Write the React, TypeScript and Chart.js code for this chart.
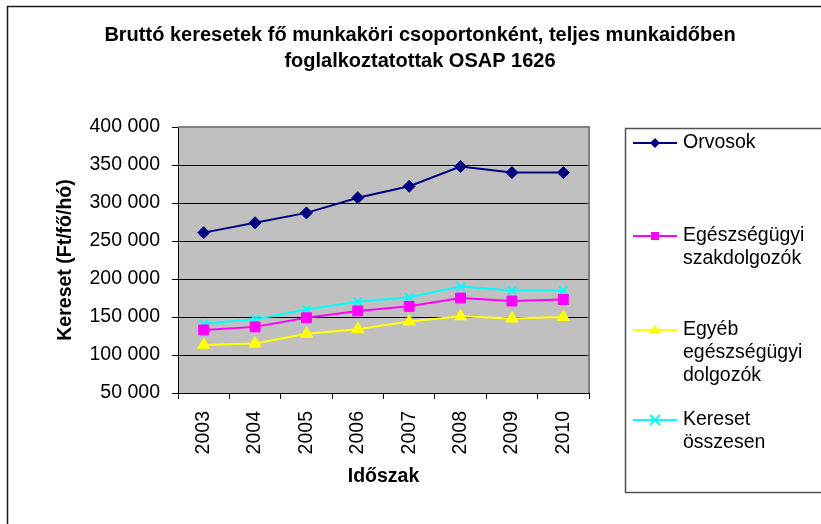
import React, { useEffect, useRef } from "react";
import { Chart, registerables } from "chart.js";

Chart.register(...registerables);

const years = ["2003", "2004", "2005", "2006", "2007", "2008", "2009", "2010"];
const orvosok = [261000, 274000, 287000, 307000, 322000, 348000, 340000, 340000];
const szakdolgozok = [133000, 137000, 149000, 158000, 164000, 175000, 171000, 173000];
const egyeb = [113000, 115000, 128000, 134000, 144000, 151000, 148000, 150000];
const osszesen = [141000, 147000, 160000, 170000, 176000, 190000, 185000, 185000];

const yMin = 50000;
const yMax = 400000;
const yStep = 50000;

const titleLines = [
  "Bruttó keresetek fő munkaköri csoportonként, teljes munkaidőben",
  "foglalkoztatottak OSAP 1626",
];
const yTitle = "Kereset (Ft/fő/hó)";
const xTitle = "Időszak";
const legendLabels = [
  ["Orvosok"],
  ["Egészségügyi", "szakdolgozók"],
  ["Egyéb", "egészségügyi", "dolgozók"],
  ["Kereset", "összesen"],
];

const FONT = "'Liberation Sans', Arial, sans-serif";
const colors = ["#000080", "#FF00FF", "#FFFF00", "#00FFFF"];
const styles = ["rectRot", "rect", "triangle", "crossRot"];

function fmt(v: number) {
  return Math.round(v)
    .toString()
    .replace(/\B(?=(\d{3})+(?!\d))/g, " ");
}

function drawMarker(ctx: CanvasRenderingContext2D, style: string, x: number, y: number, r: number, color: string) {
  ctx.save();
  ctx.fillStyle = color;
  ctx.strokeStyle = color;
  ctx.lineWidth = 2;
  ctx.beginPath();
  if (style === "rectRot") {
    ctx.moveTo(x, y - r);
    ctx.lineTo(x + r, y);
    ctx.lineTo(x, y + r);
    ctx.lineTo(x - r, y);
    ctx.closePath();
    ctx.fill();
  } else if (style === "rect") {
    ctx.rect(x - r, y - r, 2 * r, 2 * r);
    ctx.fill();
  } else if (style === "triangle") {
    ctx.moveTo(x, y - r);
    ctx.lineTo(x + r * 1.1, y + r * 0.7);
    ctx.lineTo(x - r * 1.1, y + r * 0.7);
    ctx.closePath();
    ctx.fill();
  } else {
    ctx.moveTo(x - r, y - r);
    ctx.lineTo(x + r, y + r);
    ctx.moveTo(x + r, y - r);
    ctx.lineTo(x - r, y + r);
    ctx.stroke();
  }
  ctx.restore();
}

const decorPlugin = {
  id: "decor",
  beforeDraw(chart: any) {
    const { ctx, chartArea } = chart;
    ctx.save();
    ctx.fillStyle = "#ffffff";
    ctx.fillRect(0, 0, chart.width, chart.height);
    // outer frame
    ctx.strokeStyle = "#1a1a1a";
    ctx.lineWidth = 1.5;
    ctx.beginPath();
    ctx.moveTo(7.5, chart.height + 5);
    ctx.lineTo(7.5, 6.5);
    ctx.lineTo(chart.width + 5, 6.5);
    ctx.stroke();
    // plot background
    ctx.fillStyle = "#C0C0C0";
    ctx.fillRect(chartArea.left, chartArea.top, chartArea.right - chartArea.left, chartArea.bottom - chartArea.top);
    // title
    ctx.fillStyle = "#000";
    ctx.font = `bold 20px ${FONT}`;
    ctx.textAlign = "center";
    ctx.textBaseline = "middle";
    titleLines.forEach((t, i) => ctx.fillText(t, 420, 35.5 + i * 25.5));
    ctx.restore();
  },
  afterDraw(chart: any) {
    const { ctx, chartArea } = chart;
    ctx.save();
    // plot border top/right
    ctx.strokeStyle = "#808080";
    ctx.lineWidth = 2;
    ctx.beginPath();
    ctx.moveTo(chartArea.left, chartArea.top);
    ctx.lineTo(chartArea.right, chartArea.top);
    ctx.lineTo(chartArea.right, chartArea.bottom);
    ctx.stroke();
    // legend box
    ctx.strokeStyle = "#505050";
    ctx.lineWidth = 1.5;
    ctx.beginPath();
    ctx.moveTo(chart.width + 5, 128.5);
    ctx.lineTo(625.5, 128.5);
    ctx.lineTo(625.5, 492.5);
    ctx.lineTo(chart.width + 5, 492.5);
    ctx.stroke();
    // legend entries
    const ys = [143, 236, 330, 420];
    ctx.font = `19.5px ${FONT}`;
    ctx.textAlign = "left";
    ctx.textBaseline = "middle";
    legendLabels.forEach((lines, i) => {
      const y = ys[i];
      ctx.strokeStyle = colors[i];
      ctx.lineWidth = 2;
      ctx.beginPath();
      ctx.moveTo(633, y);
      ctx.lineTo(677, y);
      ctx.stroke();
      const r = [5, 4, 5.5, 5][i];
      drawMarker(ctx, styles[i], 655, y, r, colors[i]);
      ctx.fillStyle = "#000";
      lines.forEach((t, j) => ctx.fillText(t, 683, y + j * 23));
    });
    ctx.restore();
  },
};

export default function App() {
  const ref = useRef<HTMLCanvasElement>(null);
  useEffect(() => {
    if (!ref.current) return;
    const series = [orvosok, szakdolgozok, egyeb, osszesen];
    const radii = [6, 7, 7, 6];
    const chart = new Chart(ref.current, {
      type: "line",
      data: {
        labels: years,
        datasets: series.map((d, i) => ({
          label: legendLabels[i].join(" "),
          data: d,
          borderColor: colors[i],
          backgroundColor: colors[i],
          borderWidth: 2,
          pointStyle: styles[i] as any,
          pointRadius: radii[i],
          pointBorderWidth: i === 3 ? 2 : 1,
          pointBackgroundColor: colors[i],
          pointBorderColor: colors[i],
          tension: 0,
        })),
      },
      options: {
        responsive: false,
        animation: false,
        devicePixelRatio: 1,
        layout: { padding: { top: 127, left: 0, right: 232, bottom: 0 } },
        plugins: {
          legend: { display: false },
          title: { display: false },
          tooltip: { enabled: false },
        },
        scales: {
          x: {
            offset: true,
            grid: {
              offset: true,
              drawOnChartArea: false,
              drawTicks: true,
              tickLength: 6,
              color: "#000",
            },
            border: { display: true, color: "#000", width: 1 },
            ticks: {
              color: "#000",
              font: { family: FONT, size: 19.5 },
              minRotation: 90,
              maxRotation: 90,
              padding: 12,
              autoSkip: false,
            },
            title: {
              display: true,
              text: xTitle,
              color: "#000",
              font: { family: FONT, size: 19.5, weight: "bold" },
              padding: { top: 0, bottom: 36 },
            },
            afterFit: (s: any) => {
              s.height = 131;
            },
          },
          y: {
            min: yMin,
            max: yMax,
            grid: { color: "#000", lineWidth: 1, drawTicks: true, tickLength: 6 },
            border: { display: true, color: "#000", width: 1 },
            ticks: {
              stepSize: yStep,
              color: "#000",
              font: { family: FONT, size: 19.5 },
              padding: 12,
              callback: (v: any) => fmt(Number(v)),
            },
            title: {
              display: true,
              text: yTitle,
              color: "#000",
              font: { family: FONT, size: 19.5, weight: "bold" },
              padding: { top: 54, bottom: 0 },
            },
            afterFit: (s: any) => {
              s.width = 178;
            },
          },
        },
      },
      plugins: [decorPlugin],
    });
    return () => chart.destroy();
  }, []);
  return (
    <div style={{ position: "fixed", left: 0, top: 0, width: 821, height: 524, background: "#fff" }}>
      <canvas ref={ref} width={821} height={524} style={{ width: 821, height: 524, display: "block" }} />
    </div>
  );
}
